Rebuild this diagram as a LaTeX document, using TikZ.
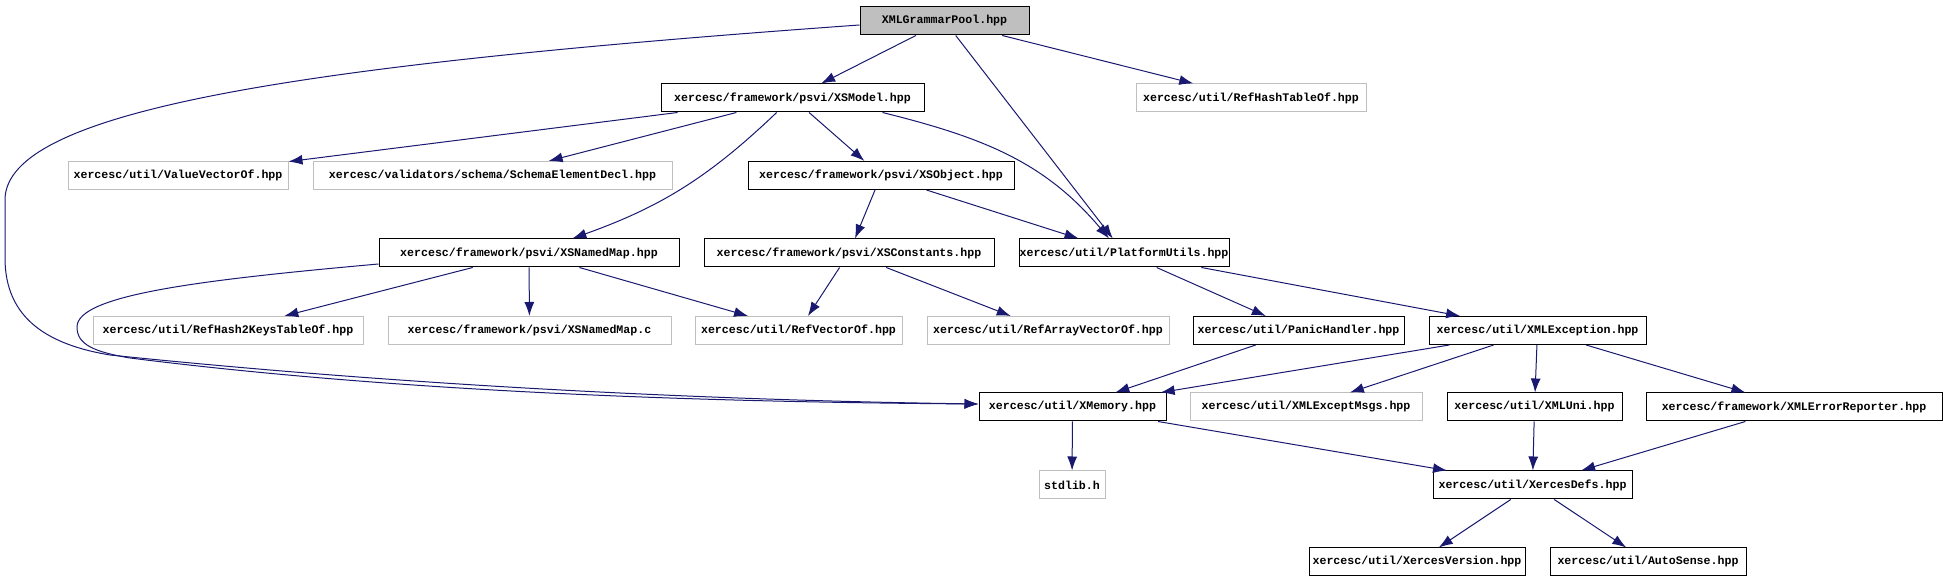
\documentclass[tikz,border=0pt]{standalone}
\usepackage{fontspec}
\setmonofont{Liberation Mono}
\usepackage{tikz}
\usetikzlibrary{positioning,arrows.meta}
\definecolor{edgeblue}{RGB}{25,25,112}
\definecolor{boxgrey}{RGB}{191,191,191}

\begin{document}
\begin{tikzpicture}[
  x=0.5pt, y=-0.5pt,
  font=\ttfamily\bfseries\fontsize{5.8}{7}\selectfont,
  node distance=12pt,
  raiz/.style={draw, fill=boxgrey, line width=0.5pt, inner sep=0pt,
               minimum height=14pt},
  incl/.style={draw, line width=0.5pt, inner sep=0pt, minimum height=14pt},
  externo/.style={draw=boxgrey, line width=0.5pt, inner sep=0pt,
                  minimum height=14pt},
  dep/.style={-{Latex[length=7pt,width=5pt]}, edgeblue, line width=0.5pt},
]
\useasboundingbox (0,0) rectangle (1943,581);

% ---- Arquivo raiz -----------------------------------------------------------
\node[raiz, minimum width=84.5pt] (pool) at (944.5,21) {XMLGrammarPool.hpp};

% ---- Nivel 1 ----------------------------------------------------------------
\node[incl, minimum width=131.5pt] (xsmodel) at (792.5,98)
      {xercesc/framework/psvi/XSModel.hpp};
\node[externo, minimum width=115pt, right=105.5pt of xsmodel] (refhashtable)
      {xercesc/util/RefHashTableOf.hpp};

% ---- Nivel 2 ----------------------------------------------------------------
\node[externo, minimum width=110pt] (valuevector) at (178,175.5)
      {xercesc/util/ValueVectorOf.hpp};
\node[externo, minimum width=179.5pt, right=of valuevector] (schemadecl)
      {xercesc/validators/schema/SchemaElementDecl.hpp};
\node[incl, minimum width=133pt, right=37.5pt of schemadecl] (xsobject)
      {xercesc/framework/psvi/XSObject.hpp};

% ---- Nivel 3 ----------------------------------------------------------------
\node[incl, minimum width=150pt] (namedmap) at (529,253)
      {xercesc/framework/psvi/XSNamedMap.hpp};
\node[incl, minimum width=145pt, right=of namedmap] (xsconst)
      {xercesc/framework/psvi/XSConstants.hpp};
\node[incl, minimum width=105pt, right=of xsconst] (platutils)
      {xercesc/util/PlatformUtils.hpp};

% ---- Nivel 4 ----------------------------------------------------------------
\node[externo, minimum width=135pt] (refhash2) at (228,330.5)
      {xercesc/util/RefHash2KeysTableOf.hpp};
\node[externo, minimum width=141.5pt, right=of refhash2] (namedmapc)
      {xercesc/framework/psvi/XSNamedMap.c};
\node[externo, minimum width=103.5pt, right=11.5pt of namedmapc] (refvector)
      {xercesc/util/RefVectorOf.hpp};
\node[externo, minimum width=121pt, right=of refvector] (refarray)
      {xercesc/util/RefArrayVectorOf.hpp};
\node[incl, minimum width=105.5pt, right=11.5pt of refarray] (panic)
      {xercesc/util/PanicHandler.hpp};
\node[incl, minimum width=108.5pt, right=of panic] (xmlexc)
      {xercesc/util/XMLException.hpp};

% ---- Nivel 5 ----------------------------------------------------------------
\node[incl, minimum width=93.5pt] (xmemory) at (1072.5,407)
      {xercesc/util/XMemory.hpp};
\node[externo, minimum width=116pt, right=11.5pt of xmemory] (excmsgs)
      {xercesc/util/XMLExceptMsgs.hpp};
\node[incl, minimum width=87.5pt, right=of excmsgs] (xmluni)
      {xercesc/util/XMLUni.hpp};
\node[incl, minimum width=148pt, right=11.5pt of xmluni] (errrep)
      {xercesc/framework/XMLErrorReporter.hpp};

% ---- Nivel 6 e 7 ------------------------------------------------------------
\node[externo, minimum width=33pt] (stdlib) at (1072,485) {stdlib.h};
\node[incl, minimum width=99.5pt] (xercesdefs) at (1532.5,485)
      {xercesc/util/XercesDefs.hpp};
\node[incl, minimum width=108pt] (xversion) at (1417,562)
      {xercesc/util/XercesVersion.hpp};
\node[incl, minimum width=98pt, right=of xversion] (autosense)
      {xercesc/util/AutoSense.hpp};

% ---- Arestas ----------------------------------------------------------------
\draw[dep] (pool) -- (xsmodel);
\draw[dep] (pool) -- (platutils);
\draw[dep] (pool) -- (refhashtable);
\draw[dep] ([yshift=-2pt]pool.west) .. controls (300,65) and (5,110) .. (5,200)
      -- (5,258) .. controls (5,320) and (50,345) .. (110,355)
      .. controls (400,385) and (700,400) .. ([yshift=1.5pt]xmemory.west);

\draw[dep] (xsmodel) -- (valuevector);
\draw[dep] (xsmodel) -- (schemadecl);
\draw[dep] (xsmodel) -- (xsobject);
\draw[dep] (xsmodel) to[bend left=12] (namedmap);
\draw[dep] ([xshift=-21pt]xsmodel.south east) to[out=-14,in=130]
      ([xshift=-7.5pt]platutils.north);

\draw[dep] (xsobject) -- (xsconst);
\draw[dep] (xsobject) -- (platutils);

\draw[dep] (namedmap) -- (refhash2);
\draw[dep] (namedmap) -- (namedmapc);
\draw[dep] (namedmap) -- (refvector);
\draw[dep] ([yshift=-5.5pt]namedmap.west) .. controls (200,280) and (77,295) .. (77,327)
      .. controls (77,345) and (95,352) .. (130,358)
      .. controls (400,392) and (700,402) .. ([yshift=1.5pt]xmemory.west);

\draw[dep] (xsconst) -- (refvector);
\draw[dep] (xsconst) -- (refarray);

\draw[dep] (platutils) -- (panic);
\draw[dep] (platutils) -- (xmlexc);

\draw[dep] (panic) -- (xmemory);
\draw[dep] (xmlexc) -- (xmemory);
\draw[dep] (xmlexc) -- (excmsgs);
\draw[dep] (xmlexc) -- (xmluni);
\draw[dep] (xmlexc) -- (errrep);

\draw[dep] (xmemory) -- (stdlib);
\draw[dep] (xmemory) -- (xercesdefs);
\draw[dep] (xmluni) -- (xercesdefs);
\draw[dep] (errrep) -- (xercesdefs);

\draw[dep] (xercesdefs) -- (xversion);
\draw[dep] (xercesdefs) -- (autosense);

\end{tikzpicture}
\end{document}
